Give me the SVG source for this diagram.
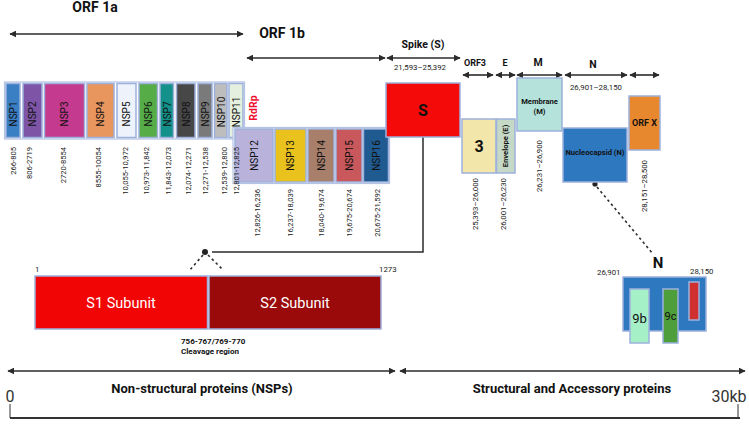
<svg xmlns="http://www.w3.org/2000/svg" width="749" height="424" viewBox="0 0 749 424">
  <defs>
    <marker id="ah" viewBox="0 0 10 10" refX="9" refY="5" markerWidth="7" markerHeight="7" orient="auto-start-reverse" markerUnits="userSpaceOnUse">
      <path d="M0,0 L10,5 L0,10 z" fill="#2b2b2b"/>
    </marker>
    <style>
      text { font-family: Roboto, "Liberation Sans", Arial, sans-serif; fill: #111; }
      .box { stroke: #9db1dc; stroke-width: 1.5; }
      .frame { fill: #fff; stroke: #b4c2e4; stroke-width: 1.2; }
      .nsp { font-size: 10px; text-anchor: middle; dominant-baseline: central; }
      .rng { font-size: 7.6px; text-anchor: end; dominant-baseline: central; fill: #222; }
      .rngs { font-size: 7.8px; fill: #222; }
      .hd { font-weight: bold; text-anchor: middle; }
      .arr { stroke: #2b2b2b; stroke-width: 1.6; fill: none; marker-start: url(#ah); marker-end: url(#ah); }
      .ln { stroke: #2b2b2b; stroke-width: 1.5; fill: none; }
      .dash { stroke: #2b2b2b; stroke-width: 1.6; fill: none; stroke-dasharray: 2.5 3; }
      .lab { font-weight: bold; text-anchor: middle; dominant-baseline: central; }
    </style>
  </defs>

  <!-- ORF headings and span arrows -->
  <g id="headings">
    <text class="hd" x="95" y="12" font-size="14">ORF 1a</text>
    <text class="hd" x="282" y="38" font-size="14">ORF 1b</text>
    <text class="hd" x="423" y="48" font-size="10.5">Spike (S)</text>
    <text class="rngs" x="420" y="70" text-anchor="middle">21,593–25,392</text>
    <text class="hd" x="475" y="66" font-size="9">ORF3</text>
    <text class="hd" x="505" y="66" font-size="9">E</text>
    <text class="hd" x="538" y="66" font-size="10.5">M</text>
    <text class="hd" x="593" y="68" font-size="10.5">N</text>
    <text class="rngs" x="596" y="90" text-anchor="middle">26,901–28,150</text>
  </g>

  <g id="connectors">
    <line class="arr" x1="10" y1="34" x2="243" y2="34"/>
    <line class="arr" x1="247" y1="58" x2="385" y2="58"/>
    <line class="arr" x1="387" y1="58" x2="460" y2="58"/>
    <line class="arr" x1="463" y1="75" x2="493" y2="75"/>
    <line class="arr" x1="496" y1="75" x2="515" y2="75"/>
    <line class="arr" x1="517" y1="75" x2="562" y2="75"/>
    <line class="arr" x1="565" y1="75" x2="627" y2="75"/>
    <line class="arr" x1="630" y1="75" x2="659" y2="75"/>
    <!-- spike to subunit callout -->
    <polyline class="ln" points="423,137 423,252 212,252"/>
    <circle cx="205" cy="252" r="3" fill="#222"/>
    <line class="dash" x1="203" y1="255" x2="189" y2="271"/>
    <line class="dash" x1="208" y1="255" x2="223" y2="270"/>
    <!-- nucleocapsid callout -->
    <circle cx="595" cy="184" r="2.6" fill="#222"/>
    <line class="dash" x1="597" y1="187" x2="653" y2="254"/>
    <!-- genome-wide spans -->
    <line class="arr" x1="8" y1="371" x2="395" y2="371"/>
    <line class="arr" x1="400" y1="371" x2="745" y2="371"/>
  </g>

  <!-- ORF1a non-structural proteins -->
  <g id="orf1a">
    <rect class="frame" x="4.5" y="82" width="240" height="57"/>
    <g id="nsp1"><rect class="box" x="6" y="83.5" width="14" height="54" fill="#3a7ec4"/><text class="nsp" transform="translate(13,114) rotate(-90)">NSP1</text></g>
    <g id="nsp2"><rect class="box" x="23" y="83.5" width="19" height="54" fill="#7e55a6"/><text class="nsp" transform="translate(32.5,114) rotate(-90)">NSP2</text></g>
    <g id="nsp3"><rect class="box" x="44.5" y="83.5" width="40" height="54" fill="#c43a8e"/><text class="nsp" transform="translate(64.5,114) rotate(-90)">NSP3</text></g>
    <g id="nsp4"><rect class="box" x="87" y="83.5" width="27" height="54" fill="#e8955e"/><text class="nsp" transform="translate(100.5,114) rotate(-90)">NSP4</text></g>
    <g id="nsp5"><rect class="box" x="117" y="83.5" width="19" height="54" fill="#eef3fb"/><text class="nsp" transform="translate(126.5,114) rotate(-90)">NSP5</text></g>
    <g id="nsp6"><rect class="box" x="139" y="83.5" width="18.5" height="54" fill="#56ad48"/><text class="nsp" transform="translate(148,114) rotate(-90)">NSP6</text></g>
    <g id="nsp7"><rect class="box" x="160" y="83.5" width="13.5" height="54" fill="#13918a"/><text class="nsp" transform="translate(167,114) rotate(-90)">NSP7</text></g>
    <g id="nsp8"><rect class="box" x="176.5" y="83.5" width="18.5" height="54" fill="#474747"/><text class="nsp" transform="translate(186,114) rotate(-90)">NSP8</text></g>
    <g id="nsp9"><rect class="box" x="198" y="83.5" width="14" height="54" fill="#7a7a7a"/><text class="nsp" transform="translate(205,114) rotate(-90)">NSP9</text></g>
    <g id="nsp10"><rect class="box" x="214.5" y="83.5" width="12.5" height="54" fill="#bdbdbd"/><text class="nsp" transform="translate(221,112) rotate(-90)">NSP10</text></g>
    <g id="nsp11"><rect class="box" x="229" y="83.5" width="14" height="54" fill="#e6f0de"/><text class="nsp" transform="translate(236,112) rotate(-90)">NSP11</text></g>
  </g>

  <text class="lab" transform="translate(253,108) rotate(-90)" font-size="10.5" style="fill:#ee1030">RdRp</text>

  <!-- ORF1b non-structural proteins -->
  <g id="orf1b">
    <rect class="frame" x="233" y="127.5" width="156.5" height="56"/>
    <g id="nsp12"><rect class="box" x="235" y="129" width="38" height="53" fill="#b9b3dc"/><text class="nsp" transform="translate(254,155.5) rotate(-90)">NSP12</text></g>
    <g id="nsp13"><rect class="box" x="275" y="129" width="31" height="53" fill="#e9c21e"/><text class="nsp" transform="translate(290.5,155.5) rotate(-90)">NSP13</text></g>
    <g id="nsp14"><rect class="box" x="308" y="129" width="26" height="53" fill="#a77f6b"/><text class="nsp" transform="translate(321,155.5) rotate(-90)">NSP14</text></g>
    <g id="nsp15"><rect class="box" x="336" y="129" width="26" height="53" fill="#c9585c"/><text class="nsp" transform="translate(349,155.5) rotate(-90)">NSP15</text></g>
    <g id="nsp16"><rect class="box" x="363.5" y="129" width="25" height="53" fill="#1f5a90"/><text class="nsp" transform="translate(376,155.5) rotate(-90)">NSP16</text></g>
  </g>

  <!-- nucleotide ranges of the NSPs -->
  <g id="nsp-ranges">
    <text class="rng" transform="translate(13.5,147) rotate(-90)">266-805</text>
    <text class="rng" transform="translate(29,147) rotate(-90)">806-2719</text>
    <text class="rng" transform="translate(63,147) rotate(-90)">2720-8554</text>
    <text class="rng" transform="translate(98,147) rotate(-90)">8555-10054</text>
    <text class="rng" transform="translate(125,147) rotate(-90)">10,055-10,972</text>
    <text class="rng" transform="translate(146,147) rotate(-90)">10,973-11,842</text>
    <text class="rng" transform="translate(168,147) rotate(-90)">11,843-12,073</text>
    <text class="rng" transform="translate(188,147) rotate(-90)">12,074-12,271</text>
    <text class="rng" transform="translate(205,147) rotate(-90)">12,271-12,538</text>
    <text class="rng" transform="translate(224,147) rotate(-90)">12,539-12,800</text>
    <text class="rng" transform="translate(236,147) rotate(-90)">12,801-12,825</text>
    <text class="rng" transform="translate(257,189) rotate(-90)">12,826-16,236</text>
    <text class="rng" transform="translate(290,189) rotate(-90)">16,237-18,039</text>
    <text class="rng" transform="translate(321,189) rotate(-90)">18,040-19,674</text>
    <text class="rng" transform="translate(349,189) rotate(-90)">19,675-20,674</text>
    <text class="rng" transform="translate(377,189) rotate(-90)">20,675-21,592</text>
  </g>

  <!-- structural and accessory proteins -->
  <g id="spike"><rect class="box" x="386" y="83" width="74" height="54" fill="#f50a0a"/><text class="lab" x="423" y="110" font-size="16">S</text></g>
  <g id="orf3"><rect class="box" x="462" y="119" width="34" height="54" fill="#f3e6ab"/><text class="lab" x="479" y="146" font-size="16">3</text></g>
  <g id="envelope"><rect class="box" x="496.5" y="119" width="18.5" height="54" fill="#c5d9c6"/><text class="lab" transform="translate(505.5,146) rotate(-90)" font-size="7.6">Envelope (E)</text></g>
  <g id="membrane"><rect class="box" x="517" y="78" width="45" height="53" fill="#b5e3dc"/><text class="lab" x="539.5" y="101" font-size="7.6">Membrane</text><text class="lab" x="539.5" y="111" font-size="7.6">(M)</text></g>
  <g id="nucleocapsid"><rect class="box" x="563" y="128" width="64" height="54" fill="#2e78c0"/><text class="lab" x="595" y="152" font-size="7.6">Nucleocapsid (N)</text></g>
  <g id="orfx"><rect class="box" x="629" y="96" width="31" height="54" fill="#e8882e"/><text class="lab" x="644.5" y="123" font-size="9">ORF X</text></g>

  <g id="sp-ranges">
    <text class="rng" transform="translate(475,178) rotate(-90)" style="font-size:7.8px">25,393–26,000</text>
    <text class="rng" transform="translate(503,178) rotate(-90)" style="font-size:7.8px">26,001–26,230</text>
    <text class="rng" transform="translate(539,140) rotate(-90)" style="font-size:7.8px">26,231–26,900</text>
    <text class="rng" transform="translate(644,160) rotate(-90)" style="font-size:7.8px">28,151–28,500</text>
  </g>

  <!-- spike subunits -->
  <g id="s-subunits">
    <text class="rngs" x="35" y="272">1</text>
    <text class="rngs" x="379" y="272">1273</text>
    <rect class="box" x="35" y="276" width="172.5" height="53" fill="#f20505"/>
    <rect class="box" x="209" y="276" width="172" height="53" fill="#9a0a0a"/>
    <text x="121" y="303" font-size="14.5" text-anchor="middle" dominant-baseline="central" style="fill:#fff">S1 Subunit</text>
    <text x="295" y="303" font-size="14.5" text-anchor="middle" dominant-baseline="central" style="fill:#fff">S2 Subunit</text>
    <text x="181" y="344" font-size="8" font-weight="bold">756-767/769-770</text>
    <text x="181" y="354" font-size="8" font-weight="bold">Cleavage region</text>
  </g>

  <!-- nucleocapsid gene detail -->
  <g id="n-detail">
    <text class="hd" x="658" y="268" font-size="15">N</text>
    <text class="rngs" x="597" y="275">26,901</text>
    <text class="rngs" x="690" y="274">28,150</text>
    <rect class="box" x="623" y="277" width="83" height="54" fill="#2e78c0"/>
    <rect class="box" x="630" y="289" width="19" height="54" fill="#a6f0c8"/>
    <text x="639.5" y="318" font-size="13" text-anchor="middle" dominant-baseline="central">9b</text>
    <rect class="box" x="663" y="289" width="15" height="54" fill="#4e9e3c"/>
    <text x="670.5" y="316" font-size="11" text-anchor="middle" dominant-baseline="central">9c</text>
    <rect class="box" x="689" y="282" width="10" height="38" fill="#d03030"/>
  </g>

  <!-- genome axis -->
  <g id="axis">
    <text class="hd" x="202" y="393" font-size="13">Non-structural proteins (NSPs)</text>
    <text class="hd" x="572" y="393" font-size="13">Structural and Accessory proteins</text>
    <text x="10" y="402" font-size="16" text-anchor="middle" style="fill:#333">0</text>
    <text x="729" y="402" font-size="16" text-anchor="middle" style="fill:#333">30kb</text>
    <line x1="10" y1="418" x2="740" y2="418" stroke="#333" stroke-width="2"/>
    <line x1="10" y1="404" x2="10" y2="418" stroke="#333" stroke-width="1"/>
    <line x1="738" y1="404" x2="738" y2="418" stroke="#333" stroke-width="1"/>
  </g>
</svg>
